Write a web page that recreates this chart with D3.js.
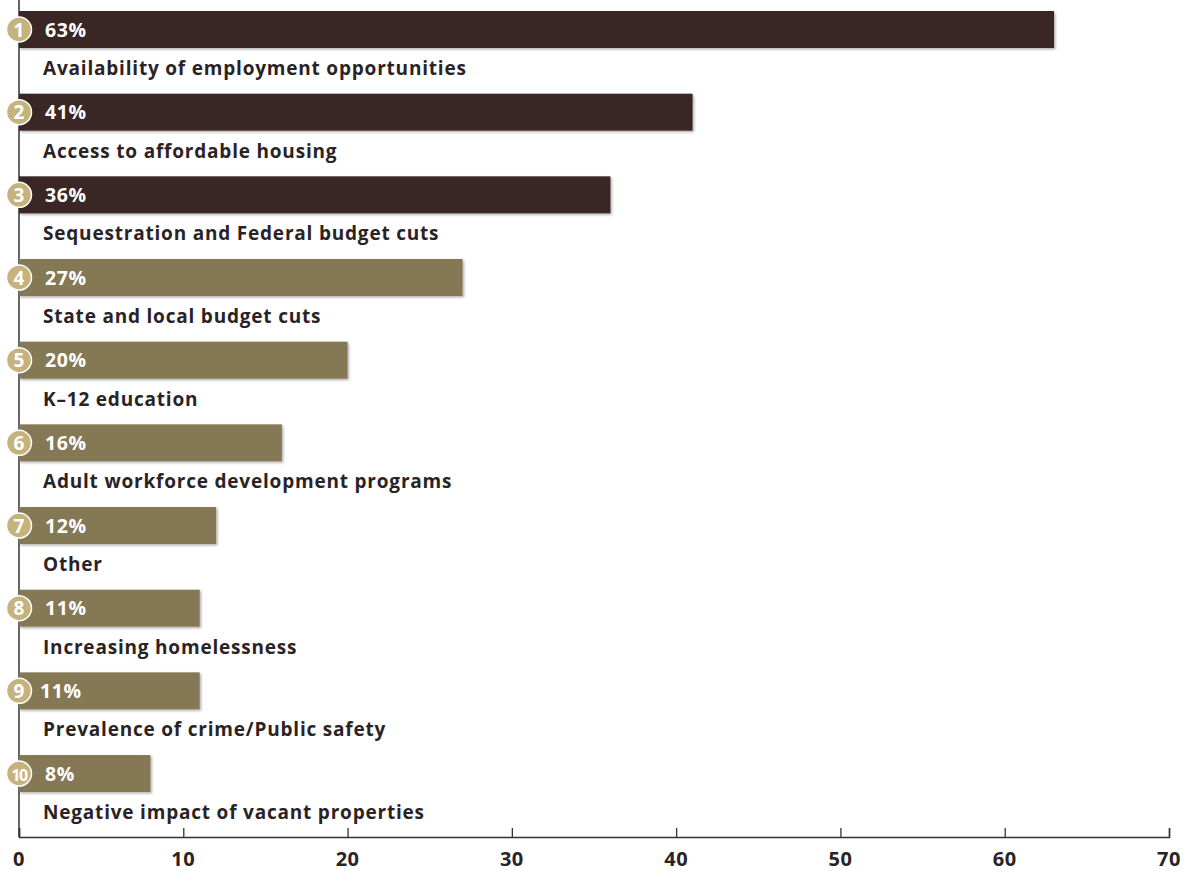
<!DOCTYPE html>
<html>
<head>
<meta charset="utf-8">
<script src="https://cdn.jsdelivr.net/npm/d3@7"></script>
<style>
  body { margin: 0; background: #fff; }
  svg { display: block; font-family: "Open Sans", sans-serif; }
</style>
</head>
<body>
<svg id="chart" width="1186" height="871"></svg>
<script>
const categories = [
  "Availability of employment opportunities",
  "Access to affordable housing",
  "Sequestration and Federal budget cuts",
  "State and local budget cuts",
  "K\u201312 education",
  "Adult workforce development programs",
  "Other",
  "Increasing homelessness",
  "Prevalence of crime/Public safety",
  "Negative impact of vacant properties"
];
const values = [63, 41, 36, 27, 20, 16, 12, 11, 11, 8];
const ranks = [1, 2, 3, 4, 5, 6, 7, 8, 9, 10];
const xTicks = [0, 10, 20, 30, 40, 50, 60, 70];

const svg = d3.select("#chart");
const left = 19, right = 1169, axisY = 837;
const rowStep = 82.67, barH = 37, firstRowY = 11;

const x = d3.scaleLinear().domain([0, 70]).range([left, right]);

const defs = svg.append("defs");
const f = defs.append("filter").attr("id", "shadow").attr("x", "-5%").attr("y", "-20%").attr("width", "110%").attr("height", "150%");
f.append("feDropShadow").attr("dx", 1.5).attr("dy", 1.5).attr("stdDeviation", 0.8).attr("flood-color", "#000").attr("flood-opacity", 0.3);

// y axis line (drawn first so bars and badges sit on top)
svg.append("line")
  .attr("x1", left).attr("x2", left)
  .attr("y1", 0).attr("y2", axisY)
  .attr("stroke", "#333").attr("stroke-width", 1.5);

const rows = svg.append("g").selectAll("g").data(ranks).join("g")
  .attr("transform", r => `translate(0,${firstRowY + (r - 1) * rowStep})`);

rows.append("rect")
  .attr("x", x(0))
  .attr("y", 0)
  .attr("width", (r, i) => x(values[i]) - x(0))
  .attr("height", barH)
  .attr("fill", (r, i) => i < 3 ? "#3a2627" : "#857855")
  .attr("filter", "url(#shadow)");

rows.append("text")
  .attr("x", r => r === 9 ? 40 : 45)
  .attr("y", barH / 2 + 7)
  .attr("fill", "#fff")
  .attr("font-size", 19.5)
  .attr("font-weight", 700)
  .attr("letter-spacing", 0.6)
  .text((r, i) => values[i] + "%");

rows.append("text")
  .attr("x", 43)
  .attr("y", barH + 27)
  .attr("fill", "#2a2326")
  .attr("font-size", 19)
  .attr("font-weight", 700)
  .attr("letter-spacing", 0.8)
  .text((r, i) => categories[i]);

// x axis with ticks pointing up
const xAxis = d3.axisTop(x).tickValues(xTicks).tickSize(9).tickFormat("");
const axG = svg.append("g").attr("transform", `translate(0,${axisY})`).call(xAxis);
axG.select(".domain").attr("stroke", "#333").attr("stroke-width", 1.5);
axG.selectAll(".tick line").attr("stroke", "#333").attr("stroke-width", 1.3);

svg.append("g").selectAll("text").data(xTicks).join("text")
  .attr("x", d => x(d))
  .attr("y", 866)
  .attr("text-anchor", "middle")
  .attr("fill", "#2a2326")
  .attr("font-size", 20)
  .attr("font-weight", 700)
  .attr("letter-spacing", 0.5)
  .text(d => d);

// rank badges on the axis
const badges = rows.append("g").attr("transform", `translate(${left},${barH / 2})`);
badges.append("circle")
  .attr("r", 12.5)
  .attr("fill", "#c6b27d")
  .attr("stroke", "#fff")
  .attr("stroke-width", 1.5);
badges.append("text")
  .attr("text-anchor", "middle")
  .attr("y", 7)
  .attr("fill", "#fff")
  .attr("font-size", r => r === 10 ? 16 : 19)
  .attr("font-weight", 700)
  .attr("letter-spacing", r => r === 10 ? -1.5 : 0)
  .text(r => r);
</script>
</body>
</html>
